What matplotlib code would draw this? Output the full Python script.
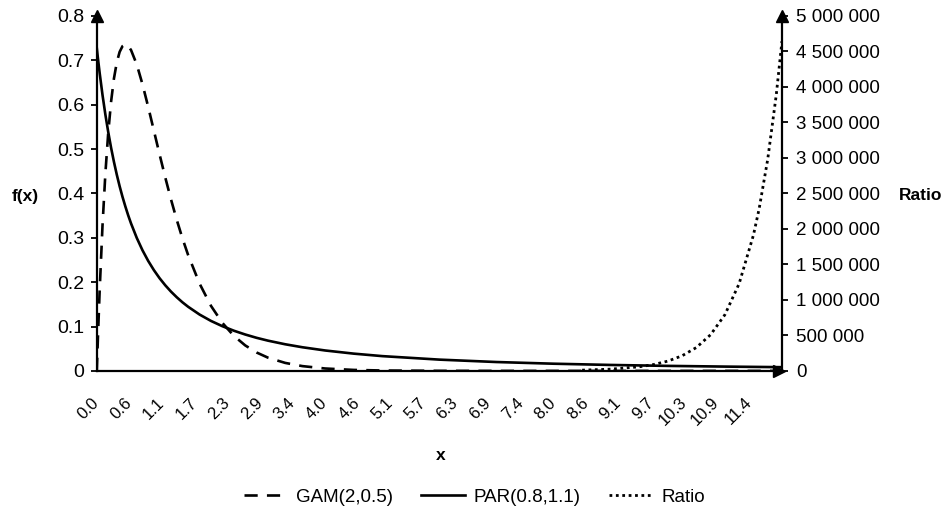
import matplotlib.pyplot as plt
from matplotlib.ticker import FuncFormatter

plt.rcParams['font.family'] = ['Liberation Sans', 'DejaVu Sans']

# density values read along x
x = [0, 0.02, 0.05, 0.1, 0.15, 0.2, 0.25, 0.3, 0.35, 0.4, 0.45, 0.5, 0.55, 0.6,
     0.7, 0.8, 0.9, 1.0, 1.1, 1.2, 1.3, 1.4, 1.5, 1.6, 1.8, 2.0, 2.2, 2.4, 2.6,
     2.8, 3.0, 3.3, 3.6, 4.0, 4.5, 5.0, 6.0, 7.0, 8.0, 9.0, 10.0, 11.0, 12.0]
gam = [0, 0.0769, 0.1810, 0.3275, 0.4445, 0.5363, 0.6065, 0.6586, 0.6952, 0.7189,
       0.7318, 0.7358, 0.7324, 0.7229, 0.6905, 0.6460, 0.5951, 0.5413, 0.4876,
       0.4355, 0.3862, 0.3405, 0.2987, 0.2609, 0.1967, 0.1465, 0.1081, 0.0790,
       0.0574, 0.0414, 0.0297, 0.0180, 0.0108, 0.0054, 0.0022, 0.0009, 0.00015,
       0, 0, 0, 0, 0, 0]
par = [0.7273, 0.7041, 0.6714, 0.6218, 0.5778, 0.5384, 0.5030, 0.4712, 0.4423,
       0.4161, 0.3923, 0.3706, 0.3505, 0.3322, 0.2997, 0.2719, 0.2479, 0.2271,
       0.2088, 0.1928, 0.1786, 0.1660, 0.1546, 0.1445, 0.1270, 0.1126, 0.1007,
       0.0906, 0.0820, 0.0745, 0.0681, 0.0600, 0.0533, 0.0460, 0.0389, 0.0333,
       0.0254, 0.0200, 0.0162, 0.0134, 0.0113, 0.0097, 0.0084]

x_ratio = [8.5, 9.0, 9.5, 9.75, 10.0, 10.25, 10.5, 10.75, 11.0, 11.25, 11.5,
           11.6, 11.75, 11.9, 12.0]
ratio = [10480, 24530, 57900, 89150, 137600, 212550, 328900, 509770, 790800,
         1229200, 1912330, 2282830, 2978560, 3887840, 4644620]

xtick_labels = ["0.0", "0.6", "1.1", "1.7", "2.3", "2.9", "3.4", "4.0", "4.6",
                "5.1", "5.7", "6.3", "6.9", "7.4", "8.0", "8.6", "9.1", "9.7",
                "10.3", "10.9", "11.4"]

fig = plt.figure(figsize=(9.49, 5.13), dpi=100)
ax = fig.add_axes([0.102, 0.277, 0.722, 0.692])
ax2 = ax.twinx()

l1, = ax.plot(x, gam, color='black', lw=1.9, linestyle=(0, (5, 3.5)),
              label='GAM(2,0.5)')
l2, = ax.plot(x, par, color='black', lw=1.9, label='PAR(0.8,1.1)')
l3, = ax2.plot(x_ratio, ratio, color='black', lw=2.0,
               linestyle=(0, (1, 1.3)), label='Ratio')

ax.set_xlim(0, 12)
ax.set_ylim(0, 0.8)
ax2.set_ylim(0, 5000000)

ax.set_xticks([i * 12 / 21 for i in range(len(xtick_labels))])
ax.set_xticklabels(xtick_labels, rotation=45, ha='right', va='center',
                   rotation_mode='anchor')
ax.tick_params(axis='x', length=0, pad=21, labelsize=12)

ax.set_yticks([i / 10 for i in range(9)])
ax.yaxis.set_major_formatter(FuncFormatter(lambda v, p: '0' if v == 0 else f'{v:.1f}'))
ax.tick_params(axis='y', length=4, width=1.3, pad=5, labelsize=14)

ax2.set_yticks(range(0, 5000001, 500000))
ax2.yaxis.set_major_formatter(FuncFormatter(lambda v, p: f'{int(v):,}'.replace(',', ' ')))
ax2.tick_params(axis='y', length=4, width=1.3, pad=6, labelsize=13.5)

for a in (ax, ax2):
    a.spines['top'].set_visible(False)
    for s in a.spines.values():
        s.set_linewidth(1.6)
ax.spines['right'].set_visible(False)
ax2.spines['left'].set_visible(False)
ax2.spines['bottom'].set_visible(False)

# arrow heads on the axes
ax.plot([0], [1], marker='^', markersize=8, color='black', transform=ax.transAxes,
        clip_on=False)
ax.plot([1], [1], marker='^', markersize=8, color='black', transform=ax.transAxes,
        clip_on=False)
ax.plot([0.995], [0], marker='>', markersize=8, color='black', transform=ax.transAxes,
        clip_on=False)

fig.text(0.027, 1 - 196 / 513, 'f(x)', fontsize=12.5, fontweight='bold',
         ha='center', va='center')
fig.text(0.97, 1 - 196 / 513, 'Ratio', fontsize=12.5, fontweight='bold',
         ha='center', va='center')
fig.text(441 / 949, 1 - 455 / 513, 'x', fontsize=12.5, fontweight='bold',
         ha='center', va='center')

fig.legend([l1, l2, l3], ['GAM(2,0.5)', 'PAR(0.8,1.1)', 'Ratio'], ncol=3,
           loc='center', bbox_to_anchor=(0.5, 1 - 497 / 513), frameon=False,
           fontsize=13.5, handlelength=2.3, handletextpad=0.5, columnspacing=1.5)

fig.savefig('out.png', dpi=100)
